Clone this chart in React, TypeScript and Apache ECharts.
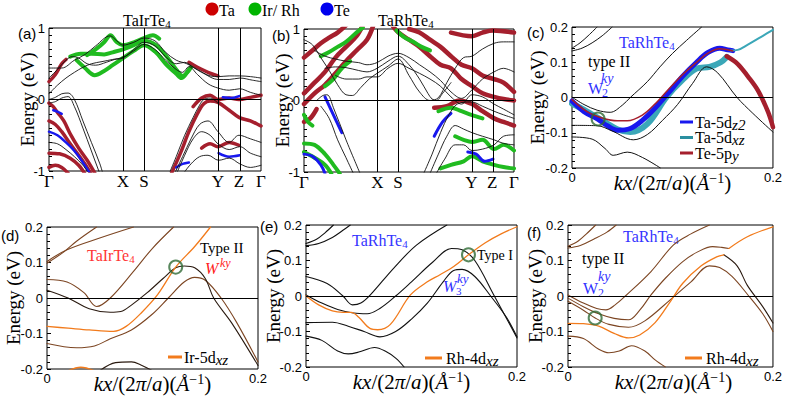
import React, { useEffect, useRef } from 'react';
import * as echarts from 'echarts';

type P = number[][];

const kLabels = ['Γ', 'X', 'S', 'Y', 'Z', 'Γ'];
const kPos = [0, 0.349, 0.448, 0.797, 0.896, 1];
const atomLegend = ['Ta', 'Ir/ Rh', 'Te'];
const orbitalsC = ['Ta-5d|z2', 'Ta-5d|xz', 'Te-5p|y'];

// (a) TaIrTe4
const aBlack: P[] = [
  [[0,0.44],[0.06,0.44],[0.12,0.55],[0.17,0.63],[0.22,0.75],[0.288,0.89],[0.32,0.82],[0.349,0.76],[0.4,0.8],[0.448,0.86],[0.5,0.82],[0.55,0.66],[0.6,0.55],[0.65,0.5],[0.7,0.42],[0.76,0.33],[0.8,0.32],[0.85,0.33],[0.9,0.33],[0.95,0.32],[1,0.3]],
  [[0,0.3],[0.04,0.42],[0.08,0.55],[0.11,0.6],[0.14,0.58],[0.18,0.5],[0.22,0.48],[0.27,0.52],[0.31,0.56],[0.349,0.58],[0.4,0.7],[0.448,0.8],[0.5,0.75],[0.55,0.6],[0.6,0.5],[0.64,0.52],[0.68,0.45],[0.72,0.38],[0.8,0.28],[0.85,0.28],[0.9,0.3],[0.96,0.27],[1,0.25]],
  [[0,0.08],[0.04,0.2],[0.08,0.3],[0.12,0.38],[0.16,0.45],[0.2,0.5],[0.25,0.53],[0.3,0.56],[0.349,0.59],[0.4,0.68],[0.448,0.77],[0.5,0.7],[0.55,0.55],[0.6,0.42],[0.63,0.38],[0.66,0.46],[0.7,0.35],[0.75,0.22],[0.797,0.16],[0.85,0.13],[0.9,0.15],[0.95,0.1],[1,0.06]],
  [[0,0.0],[0.03,0.03],[0.06,0.08],[0.09,0.09],[0.12,0.0],[0.16,-0.3],[0.2,-0.6],[0.24,-0.9],[0.26,-1.1]],
  [[0,-0.05],[0.03,-0.03],[0.06,0.02],[0.09,0.04],[0.12,-0.1],[0.16,-0.4],[0.2,-0.72],[0.235,-1.0],[0.25,-1.1]],
  [[0,-0.6],[0.04,-0.62],[0.08,-0.7],[0.12,-0.8],[0.16,-0.92],[0.19,-1.05]],
  [[0.565,-1.05],[0.6,-0.8],[0.64,-0.5],[0.68,-0.25],[0.71,-0.08],[0.73,0.0],[0.76,0.02],[0.797,-0.05]],
  [[0.59,-1.05],[0.63,-0.8],[0.67,-0.55],[0.71,-0.35],[0.75,-0.3],[0.797,-0.45],[0.85,-0.6],[0.896,-0.5],[0.95,-0.55],[1,-0.6]],
  [[0.63,-1.05],[0.67,-0.9],[0.71,-0.8],[0.75,-0.78],[0.8,-0.85],[0.85,-0.82],[0.9,-0.9],[0.95,-0.95],[1,-0.92]],
  [[0.6,-1.05],[0.64,-0.78],[0.68,-0.55],[0.72,-0.45],[0.76,-0.5],[0.797,-0.62],[0.85,-0.7],[0.9,-0.66],[0.95,-0.75],[1,-0.8]],
];
const aRed: P[] = [
  [[0,0.25],[0.03,0.35],[0.06,0.5],[0.08,0.56]],
  [[0,-0.05],[0.02,-0.1],[0.04,-0.18],[0.07,-0.3],[0.1,-0.48],[0.14,-0.68],[0.18,-0.85],[0.22,-1.05]],
  [[0,-0.3],[0.03,-0.35],[0.06,-0.45],[0.1,-0.62],[0.14,-0.78],[0.18,-0.95],[0.2,-1.05]],
  [[0,-0.75],[0.05,-0.76],[0.1,-0.82],[0.14,-0.92],[0.17,-1.04]],
  [[0,-0.95],[0.03,-0.92],[0.06,-0.95],[0.09,-1.03]],
  [[0.575,-1.05],[0.62,-0.75],[0.66,-0.45],[0.7,-0.2],[0.73,-0.06],[0.76,-0.02],[0.797,-0.04],[0.85,-0.15],[0.896,-0.25],[0.95,-0.3],[1,-0.37]],
  [[0.68,-0.1],[0.72,0.02],[0.76,0.06],[0.797,0.0],[0.85,0.02],[0.896,0.0],[0.95,0.03],[1,0.06]],
  [[0.66,0.52],[0.7,0.45],[0.75,0.38],[0.797,0.33]],
  [[0.72,-0.68],[0.76,-0.62],[0.797,-0.66],[0.85,-0.6],[0.896,-0.64]],
];
const aGreen: P[] = [
  [[0.13,0.55],[0.17,0.44],[0.215,0.34],[0.26,0.4],[0.3,0.48],[0.349,0.58],[0.4,0.68],[0.448,0.76],[0.5,0.67],[0.55,0.5],[0.6,0.36],[0.625,0.3],[0.65,0.37],[0.67,0.45]],
  [[0.1,0.6],[0.15,0.64],[0.2,0.64],[0.26,0.63],[0.3,0.66],[0.349,0.7],[0.4,0.76],[0.448,0.82],[0.5,0.77],[0.55,0.62],[0.6,0.42],[0.63,0.33],[0.66,0.42]],
  [[0.18,0.62],[0.22,0.7],[0.26,0.8],[0.29,0.9],[0.32,0.8],[0.349,0.76],[0.4,0.8],[0.448,0.86],[0.49,0.9],[0.52,0.85]],
];
const aBlue: P[] = [
  [[0,-0.45],[0.04,-0.5],[0.08,-0.6],[0.12,-0.72],[0.16,-0.88],[0.19,-1.02]],
  [[0.02,-0.15],[0.04,-0.17],[0.06,-0.2]],
  [[0.6,-0.95],[0.63,-0.9],[0.66,-0.88]],
  [[0.8,-0.75],[0.85,-0.8],[0.9,-0.78]],
  [[0.82,0.03],[0.86,0.02],[0.9,0.05]],
];

// (b) TaRhTe4
const bBlack: P[] = [
  [[0,0.85],[0.04,0.78],[0.08,0.6],[0.12,0.42],[0.16,0.22],[0.2,0.08],[0.23,0.07],[0.27,0.18],[0.31,0.3],[0.348,0.38],[0.4,0.48],[0.448,0.58],[0.5,0.35],[0.55,0.12],[0.6,0.0],[0.64,0.04],[0.68,0.25],[0.72,0.45],[0.76,0.6],[0.8,0.62],[0.85,0.72],[0.905,0.8],[0.95,0.82],[1,0.82]],
  [[0.05,0.7],[0.1,0.62],[0.15,0.58],[0.2,0.55],[0.26,0.53],[0.3,0.5],[0.348,0.53],[0.4,0.62],[0.448,0.66],[0.5,0.6],[0.55,0.5],[0.6,0.4],[0.65,0.28],[0.7,0.12],[0.75,0.03],[0.8,0.15],[0.85,0.3],[0.905,0.4],[0.95,0.45],[1,0.4]],
  [[0.1,0.45],[0.15,0.47],[0.2,0.46],[0.26,0.42],[0.3,0.4],[0.348,0.45],[0.4,0.55],[0.448,0.62],[0.5,0.5],[0.55,0.3],[0.59,0.1],[0.61,0.02],[0.63,0.0],[0.66,0.1],[0.7,0.25]],
  [[0.15,0.35],[0.2,0.3],[0.26,0.3],[0.3,0.33],[0.348,0.33],[0.4,0.45],[0.448,0.52],[0.5,0.45],[0.55,0.38],[0.6,0.3],[0.65,0.2],[0.7,0.05],[0.75,-0.05],[0.8,0.08],[0.85,0.05],[0.905,-0.05],[0.95,-0.12],[1,-0.2]],
  [[0.06,0.0],[0.09,0.07],[0.11,0.08],[0.14,-0.1],[0.2,-0.55],[0.267,-1.02]],
  [[0.08,-0.08],[0.12,-0.25],[0.16,-0.55],[0.2,-0.8],[0.235,-1.02]],
  [[0.57,-1.02],[0.61,-0.75],[0.65,-0.45],[0.69,-0.2],[0.73,-0.05],[0.797,-0.02],[0.85,-0.08],[0.905,-0.15],[0.95,-0.2],[1,-0.25]],
  [[0.6,-1.02],[0.64,-0.75],[0.68,-0.5],[0.72,-0.35],[0.76,-0.4],[0.8,-0.45],[0.85,-0.5],[0.905,-0.55],[0.95,-0.6],[1,-0.62]],
  [[0.63,-1.02],[0.67,-0.82],[0.72,-0.62],[0.76,-0.62],[0.8,-0.7],[0.85,-0.68],[0.905,-0.62],[0.95,-0.5],[1,-0.48]],
];
const bRed: P[] = [
  [[0,0.1],[0.05,0.25],[0.1,0.4],[0.15,0.6],[0.2,0.75],[0.25,0.9],[0.28,1.05]],
  [[0,-0.05],[0.05,0.1],[0.1,0.22],[0.15,0.38],[0.2,0.55],[0.25,0.7],[0.3,0.85],[0.33,1.05]],
  [[0,0.6],[0.04,0.7],[0.08,0.8],[0.12,0.88],[0.16,0.95],[0.2,1.05]],
  [[0.42,1.05],[0.45,0.95],[0.5,0.85],[0.55,0.75],[0.6,0.62],[0.65,0.5],[0.7,0.45],[0.75,0.3],[0.8,0.2],[0.85,0.1],[0.905,0.05],[0.95,0.02],[1,0.0]],
  [[0.5,1.0],[0.55,0.95],[0.6,0.85],[0.65,0.75],[0.7,0.62],[0.75,0.5],[0.8,0.45],[0.85,0.35],[0.905,0.3],[0.95,0.25],[1,0.12]],
  [[0.62,-0.1],[0.68,-0.08],[0.74,0.0],[0.8,-0.05],[0.85,-0.15],[0.905,-0.25],[0.95,-0.3],[1,-0.35]],
  [[0.7,0.95],[0.8,0.9],[0.85,0.95],[0.9,0.98],[1,0.95]],
  [[0,-0.3],[0.03,-0.25],[0.06,-0.12]],
];
const bGreen: P[] = [
  [[0.08,0.62],[0.12,0.68],[0.16,0.75],[0.2,0.82],[0.25,0.95],[0.28,1.02]],
  [[0.0,-0.2],[0.02,-0.3],[0.04,-0.35]],
  [[0.44,0.98],[0.48,0.88],[0.52,0.82],[0.56,0.75],[0.6,0.7]],
  [[0.1,0.2],[0.14,0.3],[0.18,0.45],[0.22,0.55]],
  [[0,-0.6],[0.05,-0.62],[0.1,-0.75],[0.14,-0.9],[0.17,-1.02]],
  [[0,-0.72],[0.05,-0.8],[0.1,-0.9],[0.13,-1.02]],
  [[0.65,-0.95],[0.7,-0.9],[0.76,-0.85],[0.8,-0.78],[0.85,-0.85],[0.905,-0.9],[0.95,-0.93],[1,-0.95]],
  [[0.72,-0.5],[0.76,-0.55],[0.8,-0.58],[0.85,-0.55],[0.905,-0.68],[0.95,-0.62],[1,-0.7]],
  [[0.64,-0.15],[0.7,-0.1],[0.75,-0.15],[0.797,-0.2],[0.85,-0.25]],
];
const bBlue: P[] = [
  [[0,-0.75],[0.04,-0.78],[0.08,-0.9],[0.1,-1.02]],
  [[0.62,-0.5],[0.66,-0.3],[0.7,-0.18]],
  [[0.78,-0.72],[0.82,-0.75],[0.86,-0.85],[0.9,-0.82]],
  [[0.1,0.05],[0.14,-0.2],[0.18,-0.45]],
];

// (c) TaRhTe4 zoom, orbital resolved
const cBlack: P[] = [
  [[0,0.14],[0.008,0.155],[0.016,0.175],[0.025,0.2]],
  [[0,0.132],[0.01,0.14],[0.02,0.155],[0.03,0.175],[0.04,0.2]],
  [[0,0.001],[0.012,-0.02],[0.025,-0.036],[0.038,-0.042],[0.05,-0.022],[0.058,0.0],[0.075,0.045],[0.0876,0.087],[0.1,0.125],[0.114,0.162],[0.129,0.2]],
  [[0,-0.079],[0.025,-0.08],[0.04,-0.095],[0.061,-0.12],[0.075,-0.105],[0.09,-0.065],[0.105,-0.02],[0.12,0.04],[0.134,0.087],[0.145,0.07],[0.164,0.001],[0.18,-0.045],[0.2,-0.098]],
  [[0,-0.112],[0.02,-0.118],[0.033,-0.145],[0.041,-0.164],[0.055,-0.155],[0.07,-0.17],[0.088,-0.2]],
];
const cBlue: P[] = [
  [[0,-0.01],[0.012,-0.04],[0.026,-0.062],[0.035,-0.08],[0.045,-0.093],[0.058,-0.088],[0.07,-0.065],[0.081,-0.035],[0.095,0.01],[0.11,0.06],[0.124,0.1],[0.135,0.127],[0.147,0.14],[0.155,0.135],[0.16,0.133]],
];
const cRedThin: P[] = [
  [[0,-0.006],[0.015,-0.04],[0.03,-0.058],[0.045,-0.066],[0.055,-0.066],[0.07,-0.05],[0.082,-0.02],[0.095,0.02],[0.11,0.065],[0.124,0.1],[0.135,0.125],[0.147,0.138],[0.16,0.132]],
];
const cTeal: P[] = [
  [[0,-0.017],[0.015,-0.04],[0.03,-0.065],[0.045,-0.09],[0.058,-0.098],[0.075,-0.075],[0.094,0.001],[0.11,0.05],[0.124,0.082],[0.137,0.087],[0.148,0.1],[0.154,0.115]],
];
const cTealThin: P[] = [
  [[0.158,0.133],[0.165,0.135],[0.175,0.15],[0.19,0.175],[0.2,0.192]],
];
const cRed: P[] = [
  [[0.154,0.117],[0.165,0.095],[0.175,0.06],[0.185,0.02],[0.195,-0.04],[0.2,-0.084]],
];
const cWeyl = [[0.026, -0.061]];

// (d) TaIrTe4 zoom
const dBrown: P[] = [
  [[0,0.103],[0.019,0.136],[0.05,0.169],[0.082,0.2]],
  [[0,0.098],[0.016,0.13],[0.028,0.16],[0.047,0.2]],
  [[0,0.052],[0.019,0.045],[0.035,0.015],[0.047,-0.024],[0.06,0.0],[0.082,0.075],[0.1,0.14],[0.12,0.2]],
  [[0,-0.128],[0.028,-0.14],[0.045,-0.135],[0.06,-0.115],[0.08,-0.09],[0.1,-0.045],[0.115,0.0],[0.13,0.045],[0.14,0.058],[0.15,0.05],[0.165,0.0],[0.18,-0.07],[0.2,-0.18]],
];
const dDark: P[] = [
  [[0,0.022],[0.02,0.0],[0.04,-0.03],[0.06,-0.04],[0.07,-0.038],[0.08,-0.02],[0.095,0.015],[0.11,0.055],[0.122,0.085],[0.13,0.09],[0.14,0.085],[0.15,0.055],[0.158,0.0],[0.175,-0.07],[0.2,-0.19]],
  [[0.05,-0.205],[0.065,-0.182],[0.08,-0.18],[0.09,-0.19],[0.1,-0.205]],
];
const dOrange: P[] = [
  [[0,-0.08],[0.02,-0.085],[0.04,-0.09],[0.063,-0.094],[0.075,-0.08],[0.09,-0.04],[0.105,0.01],[0.122,0.087],[0.14,0.145],[0.155,0.2]],
  [[0.02,-0.205],[0.032,-0.195],[0.045,-0.205]],
];
const dWeyl = [[0.122, 0.087]];

// (e) TaRhTe4 zoom
const eBlack: P[] = [
  [[0,0.148],[0.01,0.16],[0.018,0.178],[0.026,0.2]],
  [[0,0.142],[0.012,0.148],[0.025,0.165],[0.035,0.185],[0.042,0.2]],
  [[0,0.055],[0.02,0.035],[0.035,0.0],[0.044,-0.025],[0.052,-0.02],[0.061,0.003],[0.083,0.078],[0.105,0.144],[0.1335,0.2]],
  [[0,0.003],[0.015,-0.02],[0.03,-0.038],[0.045,-0.048],[0.058,-0.05],[0.07,-0.035],[0.085,0.0],[0.1,0.04],[0.12,0.095],[0.138,0.134],[0.148,0.13],[0.16,0.1],[0.178,0.003],[0.2,-0.118]],
  [[0,-0.075],[0.025,-0.074],[0.04,-0.085],[0.055,-0.1],[0.07,-0.115],[0.085,-0.1],[0.1,-0.065],[0.115,-0.02],[0.13,0.04],[0.14,0.072],[0.148,0.075],[0.16,0.055],[0.175,0.0],[0.19,-0.06],[0.2,-0.115]],
  [[0,-0.113],[0.015,-0.125],[0.03,-0.155],[0.04,-0.163],[0.05,-0.158],[0.065,-0.145],[0.075,-0.155],[0.085,-0.175],[0.093,-0.2]],
];
const eOrange: P[] = [
  [[0,0.0],[0.012,-0.025],[0.025,-0.042],[0.035,-0.046],[0.043,-0.046],[0.05,-0.06],[0.061,-0.092],[0.068,-0.095],[0.08,-0.08],[0.099,0.003],[0.115,0.04],[0.127,0.06],[0.14,0.083],[0.154,0.116],[0.17,0.15],[0.185,0.175],[0.2,0.195]],
];
const eWeyl = [[0.154, 0.116]];

// (f) TaRhTe4 zoom
const fBrown: P[] = [
  [[0,0.14],[0.01,0.155],[0.018,0.175],[0.027,0.2]],
  [[0,0.135],[0.012,0.142],[0.025,0.16],[0.038,0.18],[0.047,0.2]],
  [[0,0.003],[0.015,-0.02],[0.028,-0.035],[0.037,-0.039],[0.046,-0.025],[0.056,0.0],[0.081,0.069],[0.103,0.144],[0.12,0.175],[0.138,0.2]],
  [[0,-0.006],[0.015,-0.03],[0.03,-0.05],[0.045,-0.063],[0.059,-0.067],[0.07,-0.04],[0.081,0.003],[0.095,0.05],[0.112,0.097],[0.127,0.125],[0.141,0.139],[0.15,0.137],[0.157,0.134]],
  [[0,-0.015],[0.015,-0.04],[0.0265,-0.062],[0.04,-0.08],[0.059,-0.088],[0.075,-0.07],[0.1,-0.01],[0.12,0.04],[0.138,0.085],[0.148,0.08],[0.16,0.055],[0.175,0.005],[0.19,-0.05],[0.2,-0.1]],
  [[0,-0.113],[0.015,-0.12],[0.03,-0.15],[0.04,-0.16],[0.05,-0.155],[0.062,-0.14],[0.075,-0.155],[0.085,-0.18],[0.095,-0.2]],
];
const fDark: P[] = [
  [[0.152,0.116],[0.165,0.085],[0.175,0.03],[0.19,-0.03],[0.2,-0.076]],
];
const fOrange: P[] = [
  [[0.157,0.134],[0.175,0.167],[0.2,0.195]],
  [[0,-0.077],[0.015,-0.078],[0.03,-0.085],[0.045,-0.105],[0.059,-0.118],[0.07,-0.11],[0.085,-0.075],[0.1,-0.015],[0.112,0.036],[0.13,0.085],[0.145,0.11],[0.152,0.116]],
];
const fWeyl = [[0.0265, -0.062]];

const SERIF = 'Liberation Serif, serif';
const SANS = 'Liberation Sans, Arial, sans-serif';
const RED = '#a51f2d';
const GREEN = '#20bb20';
const BLUE = '#1818ee';
const TEAL = '#3ba7b8';
const ORANGE = '#f27b1c';
const BROWN = '#7c4522';
const WGREEN = '#2f6a34';

const grids = [
  { left: 49, top: 28, width: 212, height: 143 },
  { left: 304, top: 29, width: 210, height: 143 },
  { left: 572, top: 27, width: 201, height: 141 },
  { left: 47, top: 227, width: 211, height: 142 },
  { left: 306, top: 225, width: 211, height: 142 },
  { left: 568, top: 225, width: 211, height: 142 },
];
// distance from each plot's left edge to the centre of its "Energy (eV)" title
const yNameOffset = [22, 22, 35, 34, 33, 33];

const T = (x: number, y: number, text: string, extra: any = {}) => ({
  type: 'text', x, y, silent: true,
  style: { text, fontFamily: SERIF, fontSize: 15, fill: '#000', verticalAlign: 'middle', align: 'left', ...extra },
});

function buildOption() {
  const series: any[] = [];
  const add = (g: number, bands: P[], color: string, width: number, z = 2) => {
    bands.forEach((b) =>
      series.push({
        type: 'line', xAxisIndex: g, yAxisIndex: g, data: b, smooth: 0.35,
        symbol: 'none', showSymbol: false, silent: true, clip: true, z,
        lineStyle: { color, width, cap: 'round', join: 'round' },
      })
    );
  };
  const refs = (g: number, verticals: number[]) => {
    series.push({
      type: 'line', xAxisIndex: g, yAxisIndex: g, data: [], symbol: 'none', silent: true, z: 1,
      markLine: {
        silent: true, symbol: 'none', label: { show: false }, animation: false,
        lineStyle: { color: '#000', width: 1, type: 'solid' },
        data: [{ yAxis: 0 }, ...verticals.map((v) => ({ xAxis: v }))],
      },
    });
  };
  const weyl = (g: number, pts: number[][]) => {
    series.push({
      type: 'scatter', xAxisIndex: g, yAxisIndex: g, data: pts, symbol: 'circle', symbolSize: 13, z: 10, silent: true,
      itemStyle: { color: 'rgba(0,0,0,0)', borderColor: WGREEN, borderWidth: 2 },
    });
  };
  const inner = kPos.slice(1, -1);
  refs(0, inner);
  add(0, aRed, RED, 3.5, 2);
  add(0, aGreen, GREEN, 4, 3);
  add(0, aBlue, BLUE, 2.5, 3);
  add(0, aBlack, '#111', 0.9, 4);
  refs(1, inner);
  add(1, bRed, RED, 4.5, 2);
  add(1, bGreen, GREEN, 4, 3);
  add(1, bBlue, BLUE, 3, 3);
  add(1, bBlack, '#111', 0.9, 4);
  refs(2, []);
  add(2, cTeal, TEAL, 6, 2);
  add(2, cRed, RED, 4.5, 2);
  add(2, cBlue, BLUE, 5, 3);
  add(2, cTealThin, TEAL, 2, 3);
  add(2, cRedThin, RED, 1.5, 4);
  add(2, cBlack, '#111', 1, 4);
  weyl(2, cWeyl);
  refs(3, []);
  add(3, dBrown, BROWN, 1.1, 3);
  add(3, dDark, '#2a1a10', 1.1, 3);
  add(3, dOrange, ORANGE, 1.3, 4);
  weyl(3, dWeyl);
  refs(4, []);
  add(4, eBlack, '#111', 1.1, 3);
  add(4, eOrange, ORANGE, 1.3, 4);
  weyl(4, eWeyl);
  refs(5, []);
  add(5, fBrown, BROWN, 1.1, 3);
  add(5, fDark, '#2a1a10', 1.1, 3);
  add(5, fOrange, ORANGE, 1.3, 4);
  weyl(5, fWeyl);

  const xAxis: any[] = grids.map((_, g) => {
    if (g < 2) {
      return {
        type: 'value', gridIndex: g, min: 0, max: 1,
        axisLine: { show: false }, axisTick: { show: false }, splitLine: { show: false },
        axisLabel: { show: false },
      };
    }
    return {
      type: 'value', gridIndex: g, min: 0, max: 0.2, interval: 0.2,
      axisLine: { show: false }, axisTick: { show: false }, splitLine: { show: false },
      axisLabel: { margin: 3, color: '#000', fontFamily: SANS, fontSize: 13 },
    };
  });
  const yAxis: any[] = grids.map((_, g) => {
    const top = g < 2;
    return {
      type: 'value', gridIndex: g, min: top ? -1 : -0.2, max: top ? 1 : 0.2, interval: top ? 1 : 0.1,
      axisLine: { show: false }, splitLine: { show: false },
      axisTick: { show: true, inside: true, length: 4, lineStyle: { color: '#000' } },
      minorTick: { show: true, splitNumber: top ? 10 : 5, length: 3, lineStyle: { color: '#000' } },
      axisLabel: {
        margin: 4, color: '#000', fontFamily: SANS, fontSize: 13,
        formatter: (v: number) => (top ? String(Math.round(v)) : String(Math.round(v * 10) / 10)),
      },
    };
  });

  const richChem = (color: string) => ({
    a: { fontFamily: SERIF, fontSize: 16, fill: color, color },
    s: { fontFamily: SERIF, fontSize: 11, fill: color, color, padding: [8, 0, 0, 0] },
  });
  const orbRich = {
    a: { fontFamily: SERIF, fontSize: 16, color: '#000' },
    s: { fontFamily: SERIF, fontSize: 15, fontStyle: 'italic', color: '#000', padding: [5, 0, 0, 0] },
  };
  const orb = (s: string) => { const [a, b] = s.split('|'); return `{a|${a}}{s|${b}}`; };
  const kRich = {
    n: { fontFamily: SERIF, fontSize: 21, color: '#000' },
    i: { fontFamily: SERIF, fontSize: 21, fontStyle: 'italic', color: '#000' },
    s: { fontFamily: SERIF, fontSize: 14, color: '#000', padding: [0, 0, 10, 0] },
  };
  const kName = '{i|kx}{n|/(2}{i|π}{n|/}{i|a}{n|)(}{i|Å}{s|−1}{n|)}';

  const legendColors = ['#cc0000', '#00b400', '#0000ee'];
  const legendX = [212, 255, 327];
  const graphic: any[] = [];
  atomLegend.forEach((t, i) => {
    graphic.push({ type: 'circle', shape: { cx: legendX[i], cy: 9, r: 6.5 }, style: { fill: legendColors[i] }, silent: true });
    graphic.push(T(legendX[i] + 7, 10, t, { fontSize: 16 }));
  });
  grids.forEach((g, i) => {
    graphic.push({
      type: 'text', x: g.left - yNameOffset[i], y: g.top + g.height / 2, rotation: Math.PI / 2, silent: true,
      style: { text: 'Energy (eV)', fontFamily: SERIF, fontSize: 19, fill: '#000', align: 'center', verticalAlign: 'middle' },
    });
    if (i >= 2) {
      graphic.push({
        type: 'text', x: g.left + g.width / 2, y: g.top + g.height + 15, silent: true,
        style: { text: kName, rich: kRich, fontFamily: SERIF, fontSize: 21, fill: '#000', align: 'center', verticalAlign: 'middle' },
      });
    }
  });
  const panelLabels = [['(a)', 18, 33], ['(b)', 272, 35], ['(c)', 527, 32], ['(d)', 1, 235], ['(e)', 260, 226], ['(f)', 527, 232]];
  panelLabels.forEach(([t, x, y]) => graphic.push(T(x as number, y as number, t as string, { fontFamily: SANS, fontSize: 15 })));
  graphic.push(T(123, 20, '{a|TaIrTe}{s|4}', { rich: richChem('#000') }));
  graphic.push(T(378, 20, '{a|TaRhTe}{s|4}', { rich: richChem('#000') }));
  graphic.push(T(619, 42, '{a|TaRhTe}{s|4}', { rich: richChem('#3535ff') }));
  graphic.push(T(588, 61, 'type II', { fontSize: 16 }));
  graphic.push(T(588, 88, 'W', { fontSize: 16, fill: '#3030ff' }));
  graphic.push(T(602, 93, '2', { fontSize: 12, fill: '#3030ff' }));
  graphic.push(T(601, 78, 'ky', { fontSize: 14, fontStyle: 'italic', fill: '#3030ff' }));
  const cLeg = [BLUE, '#2a8fa0', RED];
  orbitalsC.forEach((o, i) => {
    const y = 122 + i * 15.5;
    graphic.push({ type: 'line', shape: { x1: 680, y1: y, x2: 693, y2: y }, style: { stroke: cLeg[i], lineWidth: 3 }, silent: true });
    graphic.push(T(695, y, orb(o), { rich: orbRich }));
  });
  graphic.push(T(87, 255, '{a|TaIrTe}{s|4}', { rich: richChem('#ff3535') }));
  graphic.push(T(200, 248, 'Type II', { fontSize: 15 }));
  graphic.push(T(205, 268, 'W', { fontSize: 16, fontStyle: 'italic', fill: '#ff2020' }));
  graphic.push(T(220, 263, 'ky', { fontSize: 12, fontStyle: 'italic', fill: '#ff2020' }));
  graphic.push({ type: 'line', shape: { x1: 168, y1: 357, x2: 182, y2: 357 }, style: { stroke: ORANGE, lineWidth: 3 }, silent: true });
  graphic.push(T(184, 357, orb('Ir-5d|xz'), { rich: orbRich }));
  graphic.push(T(352, 240, '{a|TaRhTe}{s|4}', { rich: richChem('#3535ff') }));
  graphic.push(T(477, 255, 'Type I', { fontSize: 14 }));
  graphic.push(T(443, 286, 'W', { fontSize: 16, fontStyle: 'italic', fill: '#3030ff' }));
  graphic.push(T(456, 291, '3', { fontSize: 11, fill: '#3030ff' }));
  graphic.push(T(457, 278, 'ky', { fontSize: 13, fontStyle: 'italic', fill: '#3030ff' }));
  graphic.push({ type: 'line', shape: { x1: 425, y1: 358, x2: 442, y2: 358 }, style: { stroke: ORANGE, lineWidth: 3 }, silent: true });
  graphic.push(T(446, 358, orb('Rh-4d|xz'), { rich: orbRich }));
  graphic.push(T(623, 236, '{a|TaRhTe}{s|4}', { rich: richChem('#3535ff') }));
  graphic.push(T(582, 258, 'type II', { fontSize: 16 }));
  graphic.push(T(583, 288, 'W', { fontSize: 16, fill: '#3030ff' }));
  graphic.push(T(598, 293, '2', { fontSize: 12, fill: '#3030ff' }));
  graphic.push(T(598, 276, 'ky', { fontSize: 14, fontStyle: 'italic', fill: '#3030ff' }));
  graphic.push({ type: 'line', shape: { x1: 685, y1: 358, x2: 702, y2: 358 }, style: { stroke: ORANGE, lineWidth: 3 }, silent: true });
  graphic.push(T(706, 358, orb('Rh-4d|xz'), { rich: orbRich }));

  return {
    animation: false,
    backgroundColor: '#fff',
    textStyle: { fontFamily: SERIF },
    grid: grids.map((g) => ({ ...g, show: true, borderColor: '#000', borderWidth: 1, backgroundColor: 'transparent', containLabel: false })),
    xAxis, yAxis, series, graphic,
  };
}

export default function App() {
  const ref = useRef<HTMLDivElement>(null);
  useEffect(() => {
    if (!ref.current) return;
    const chart = echarts.init(ref.current, null, { renderer: 'svg' });
    const option: any = buildOption();
    chart.setOption(option);
    // high-symmetry point labels placed through the x-axis scale of panels (a) and (b)
    const extra: any[] = [];
    [0, 1].forEach((g) => {
      const grid = grids[g];
      kPos.forEach((k, i) => {
        const px = chart.convertToPixel({ xAxisIndex: g }, k) as number;
        extra.push(T(px, grid.top + grid.height + 10, kLabels[i], { fontSize: 17, align: 'center' }));
      });
    });
    chart.setOption({ graphic: [...option.graphic, ...extra] });
    return () => chart.dispose();
  }, []);
  return <div ref={ref} style={{ position: 'absolute', left: 0, top: 0, width: 785, height: 396, background: '#fff' }} />;
}
